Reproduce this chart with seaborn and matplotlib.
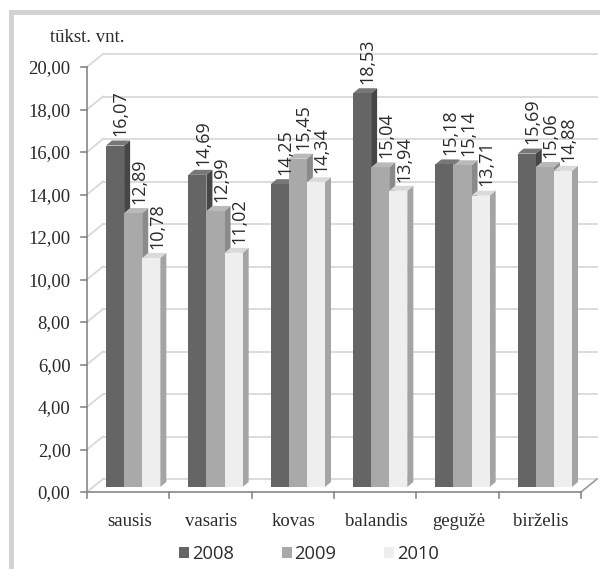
import numpy as np
import pandas as pd
import seaborn as sns
import matplotlib.pyplot as plt
from matplotlib.patches import Polygon, Rectangle, Patch
from matplotlib.transforms import ScaledTranslation

months = ['sausis', 'vasaris', 'kovas', 'balandis', 'gegužė', 'birželis']
years = ['2008', '2009', '2010']
v2008 = [16.07, 14.69, 14.25, 18.53, 15.18, 15.69]
v2009 = [12.89, 12.99, 15.45, 15.04, 15.14, 15.06]
v2010 = [10.78, 11.02, 14.34, 13.94, 13.71, 14.88]
y_ticks = np.arange(0, 21, 2)
unit_label = 'tūkst. vnt.'

front_col = ['#656565', '#a9a9a9', '#eeeeee']
side_col = ['#464646', '#8a8a8a', '#a4a4a4']
top_col = ['#777777', '#b9b9b9', '#dadada']
grid_col = '#d9d9d9'
axis_col = '#878787'
text_col = '#2b2b2b'

df = pd.DataFrame({
    'month': months * 3,
    'year': np.repeat(years, len(months)),
    'value': v2008 + v2009 + v2010,
})

fig = plt.figure(figsize=(6, 5.69), dpi=100)
fig.patch.set_facecolor('white')
# axes = plane of the bars' front faces, 494 x 425 px
ax = fig.add_axes([92 / 600, (569 - 487) / 569, 494 / 600, 425 / 569])
sns.barplot(data=df, x='month', y='value', hue='year', order=months, hue_order=years,
            palette=front_col, width=0.66, saturation=1, errorbar=None,
            linewidth=0, legend=False, ax=ax)
ax.set_xlim(-0.5, 5.5)
ax.set_ylim(0, 20)
ax.patch.set_visible(False)
for s in ax.spines.values():
    s.set_visible(False)
ax.set_xlabel('')
ax.set_ylabel('')

# pixel -> data helpers
PX = 6 / 494
PY = 20 / 425
fdx, fdy = -5 * PX, -5 * PY      # front plane (axis lines)
bdx, bdy = 11 * PX, 8 * PY       # back wall
ddx, ddy = 6 * PX, 5 * PY        # bar depth

# back wall gridlines and side-wall diagonals
for v in y_ticks:
    ax.plot([-0.5 + bdx, 5.5 + bdx], [v + bdy, v + bdy], color=grid_col, lw=1.3,
            clip_on=False, zorder=0.5)
    ax.plot([-0.5 + fdx, -0.5 + bdx], [v + fdy, v + bdy], color=grid_col, lw=1.3,
            clip_on=False, zorder=0.5)
# floor right edge
ax.plot([5.5 + fdx, 5.5 + bdx], [fdy, bdy], color='#9a9a9a', lw=1.2, clip_on=False, zorder=1)

# front axes
ax.plot([-0.5 + fdx, 5.5 + fdx], [fdy, fdy], color=axis_col, lw=1.2, clip_on=False, zorder=10)
ax.plot([-0.5 + fdx, -0.5 + fdx], [fdy, 20 + fdy], color=axis_col, lw=1.2, clip_on=False, zorder=10)
for k in range(len(months) + 1):
    ax.plot([k - 0.5 + fdx] * 2, [fdy, fdy - 6 * PY], color=axis_col, lw=1.2,
            clip_on=False, zorder=10)
for v in y_ticks:
    ax.plot([-0.5 + fdx - 6 * PX, -0.5 + fdx], [v + fdy] * 2, color=axis_col, lw=1.2,
            clip_on=False, zorder=10)

# tick labels
ax.set_yticks(y_ticks, [f'{v:.2f}'.replace('.', ',') for v in y_ticks])
ax.set_xticks(range(len(months)), months)
ax.tick_params(axis='y', length=0, pad=15.5, labelsize=13.5, labelcolor=text_col)
ax.tick_params(axis='x', length=0, pad=19, labelsize=13.5, labelcolor=text_col)
for lab in ax.get_yticklabels():
    lab.set_family('Liberation Serif')
    lab.set_transform(lab.get_transform() + ScaledTranslation(0, -0.05, fig.dpi_scale_trans))
for lab in ax.get_xticklabels():
    lab.set_family('Liberation Serif')
    lab.set_transform(lab.get_transform() + ScaledTranslation(-0.04, 0, fig.dpi_scale_trans))

# 3D faces and value labels
for h, cont in enumerate(ax.containers):
    for bar in cont:
        x0 = bar.get_x()
        w = bar.get_width()
        val = bar.get_height()
        x1 = x0 + w
        bar.set_zorder(3 + h)
        side = Polygon([(x1, 0), (x1 + ddx, ddy), (x1 + ddx, val + ddy), (x1, val)],
                       closed=True, fc=side_col[h], ec='none', zorder=2.5 + h)
        top = Polygon([(x0, val), (x1, val), (x1 + ddx, val + ddy), (x0 + ddx, val + ddy)],
                      closed=True, fc=top_col[h], ec='none', zorder=2.5 + h)
        ax.add_patch(side)
        ax.add_patch(top)
        ax.annotate(f'{val:.2f}'.replace('.', ','), xy=(x0 + w / 2 + ddx / 2, val + ddy),
                    xytext=(2, 3), textcoords='offset points', rotation=90,
                    ha='center', va='bottom', fontsize=13, family='Open Sans',
                    color=text_col, zorder=20, annotation_clip=False)

# outer frame
fig.add_artist(Rectangle((10.5 / 600, -0.1), 2, (569 - 12) / 569 + 0.1, fill=False,
                         ec='#d3d3d3', lw=3.6, transform=fig.transFigure))

fig.text(50 / 600, 1 - 37 / 569, unit_label, ha='left', va='center',
         fontsize=13.5, family='Liberation Serif', color=text_col)

handles = [Patch(fc=c, ec='none') for c in front_col]
leg = fig.legend(handles, years, ncol=3, loc='center', bbox_to_anchor=(309 / 600, 1 - 554 / 569),
                 frameon=False, handlelength=0.55, handleheight=0.55, handletextpad=0.15,
                 columnspacing=2.6, prop={'family': 'Open Sans', 'size': 13.2})
for t in leg.get_texts():
    t.set_color(text_col)

fig.savefig('out.png', dpi=100, facecolor='white')
